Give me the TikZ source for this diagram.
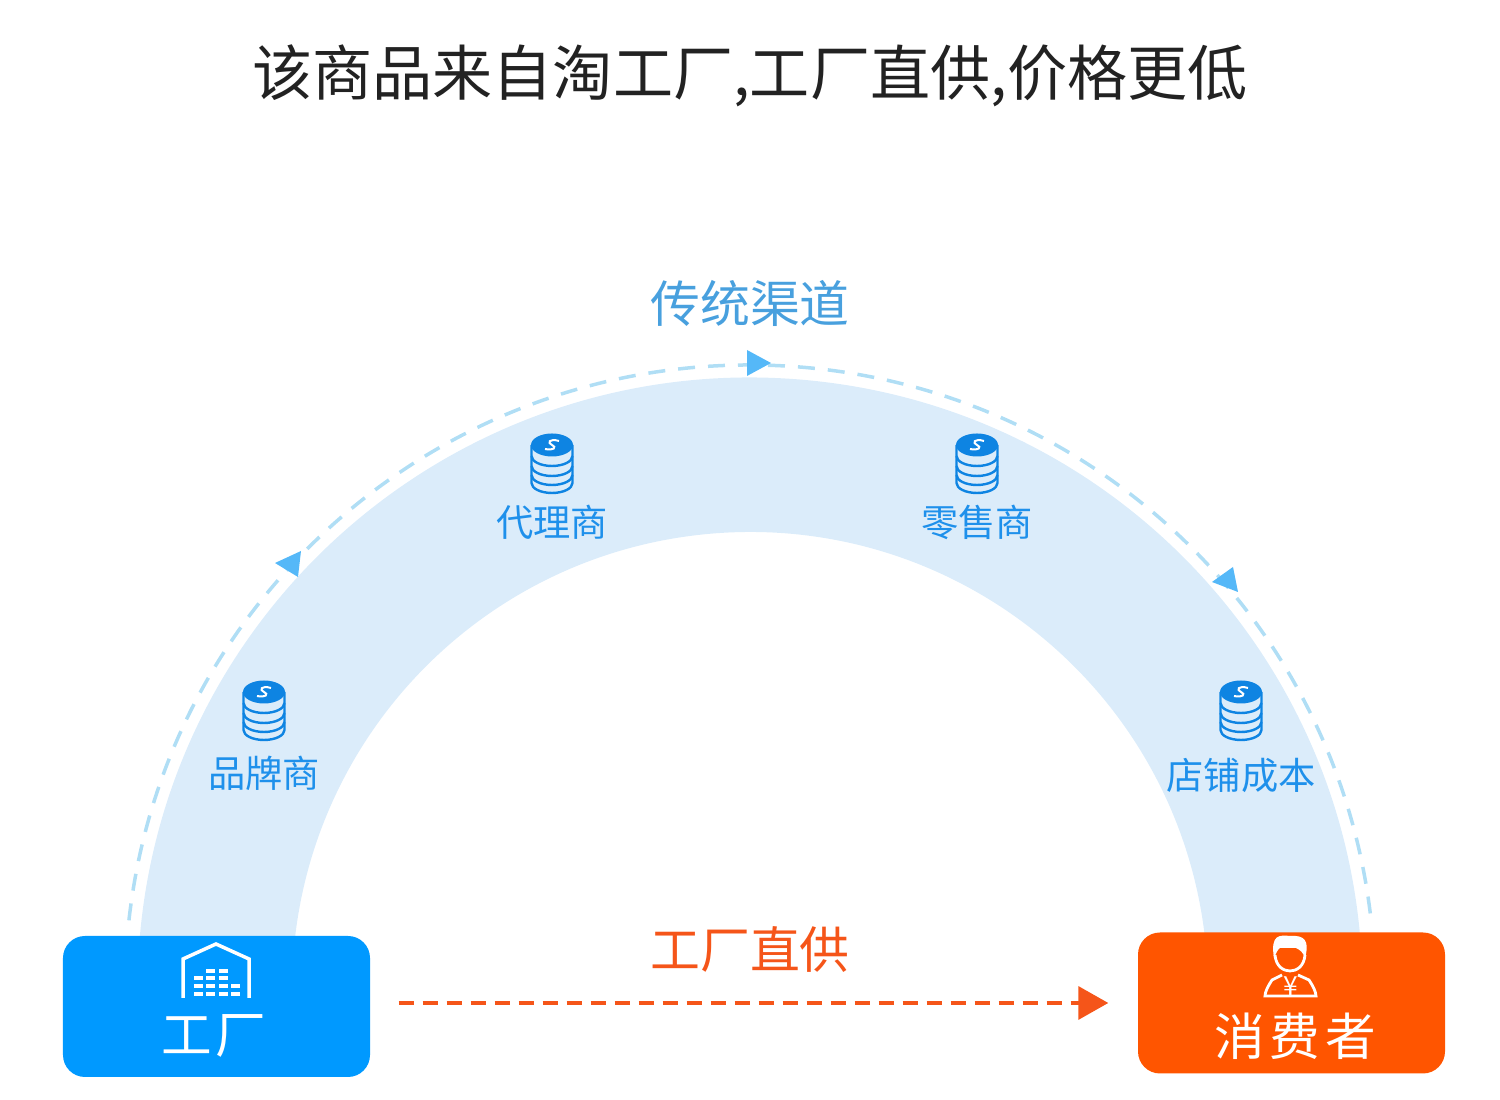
\documentclass[tikz,border=0pt]{standalone}
\usepackage{fontspec}
\setmainfont{Noto Sans CJK SC}
\usetikzlibrary{arrows.meta,positioning,calc}
\definecolor{factoryblue}{RGB}{0,153,255}
\definecolor{consumerred}{RGB}{255,85,0}
\definecolor{archblue}{RGB}{219,236,250}
\definecolor{dashblue}{RGB}{176,222,245}
\definecolor{tipblue}{RGB}{85,184,248}
\definecolor{coinblue}{RGB}{14,132,226}
\definecolor{labelblue}{RGB}{30,144,235}
\definecolor{titleblue}{RGB}{72,160,222}
\definecolor{directred}{RGB}{245,85,25}
\definecolor{titlegray}{RGB}{34,34,34}

\begin{document}
\begin{tikzpicture}[
box/.style={rounded corners=0.22cm,minimum width=3.07cm,minimum height=1.41cm,inner sep=0pt},
boxlabel/.style={white,font=\fontsize{14.4}{16}\selectfont},
stage/.style={labelblue,font=\fontsize{10.6}{12}\selectfont},
heading/.style={font=\fontsize{14.2}{16}\selectfont},
coinline/.style={coinblue,line width=0.024cm},
iconline/.style={white,line width=0.035cm},
coin/.pic={
\draw[coinline] (-.205,.18) -- (-.205,-.2) arc[x radius=.205,y radius=.1,start angle=180,end angle=360] -- (.205,.18);
\foreach \y in {.07,-.03,-.12}
\draw[coinline] (-.205,\y) arc[x radius=.205,y radius=.1,start angle=180,end angle=360];
\fill[coinblue] (0,.18) ellipse[x radius=.21,y radius=.115];
\draw[white,line width=0.02cm] (.07,.22) .. controls (-.03,.25) and (-.05,.2) .. (0,.18) .. controls (.05,.16) and (.02,.12) .. (-.07,.14);
}]
\useasboundingbox (0,0) rectangle (15,11);
% Titolo
\node[titlegray] (title) at (7.5,10.24) {\fontsize{17.1}{20}\selectfont 该商品来自淘工厂,工厂直供,价格更低};
% Arco
\begin{scope}[shift={(7.5,1.1)}]
\fill[archblue] (175:6.125) arc[start angle=175,end angle=5,radius=6.125]
-- (6.5:4.58) arc[start angle=6.5,end angle=173.5,radius=4.58] -- cycle;
\coordinate (arcstart) at (173.6:6.25);
\draw[dashblue,line width=0.035cm,dash pattern=on 0.17cm off 0.13cm] (arcstart) arc[start angle=173.6,end angle=6,radius=6.25];
\end{scope}
\foreach \a/\b/\c in {{7.47,7.5}/{7.47,7.24}/{7.71,7.37},{3.01,5.49}/{2.75,5.37}/{2.98,5.23},{12.33,5.33}/{12.12,5.18}/{12.38,5.08}}
\fill[tipblue] (\a) -- (\b) -- (\c) -- cycle;
\node[titleblue,heading] (channel) at (7.5,7.97) {传统渠道};
% Monete
\pic at (2.64,3.9) {coin};
\pic at (5.52,6.37) {coin};
\pic at (9.77,6.37) {coin};
\pic at (12.41,3.9) {coin};
\node[stage] (brand) at (2.64,3.27) {品牌商};
\node[stage] (agent) at (5.52,5.78) {代理商};
\node[stage] (retail) at (9.77,5.78) {零售商};
\node[stage] (shop) at (12.41,3.25) {店铺成本};
% Fabbrica
\node[box,fill=factoryblue] (factory) at (2.165,0.935) {};
\draw[iconline] (1.83,1.02) -- (1.83,1.41) -- (2.16,1.56) -- (2.49,1.41) -- (2.49,1.02);
\foreach \x/\y in {2.10/1.29,2.23/1.29,1.98/1.22,2.10/1.22,2.23/1.22,1.98/1.14,2.10/1.14,2.23/1.14,2.35/1.14,1.98/1.06,2.10/1.06,2.23/1.06,2.35/1.06}
\fill[white] (\x-.045,\y-.022) rectangle (\x+.045,\y+.022);
\node[boxlabel] (factorylabel) at (2.14,0.64) {工\hspace{0.04cm}厂};
% Consumatore
\node[box,fill=consumerred] (consumer) at (12.915,0.97) {};
\fill[white] (12.74,1.42) .. controls (12.7,1.66) and (12.8,1.65) .. (12.9,1.64) .. controls (13.04,1.65) and (13.1,1.6) .. (13.05,1.42) .. controls (13.03,1.48) and (13.0,1.5) .. (12.96,1.52) -- (12.8,1.52) .. controls (12.77,1.5) and (12.76,1.46) .. (12.74,1.42) -- cycle;
\draw[white,line width=0.028cm] (12.75,1.45) .. controls (12.76,1.33) and (12.84,1.29) .. (12.9,1.29) .. controls (12.96,1.29) and (13.04,1.33) .. (13.05,1.45);
\draw[white,line width=0.028cm] (12.82,1.25) -- (12.72,1.2) .. controls (12.68,1.14) and (12.65,1.08) .. (12.65,1.04) -- (13.16,1.04) .. controls (13.16,1.08) and (13.13,1.14) .. (13.09,1.2) -- (12.98,1.25);
\node[white,inner sep=0pt,font=\fontsize{7.5}{8}\selectfont] (yen) at (12.905,1.14) {¥};
\node[boxlabel] (consumerlabel) at (12.95,0.64) {消\hspace{0.05cm}费\hspace{0.05cm}者};
% Canale diretto
\node[directred,heading] (direct) at (7.5,1.5) {工厂直供};
\draw[directred,line width=0.035cm,dash pattern=on 0.15cm off 0.09cm,-{Triangle[length=0.3cm,width=0.33cm]},shorten <=0.28cm,shorten >=0.29cm] (factory.east |- consumer.west) -- (consumer.west);
\end{tikzpicture}
\end{document}
